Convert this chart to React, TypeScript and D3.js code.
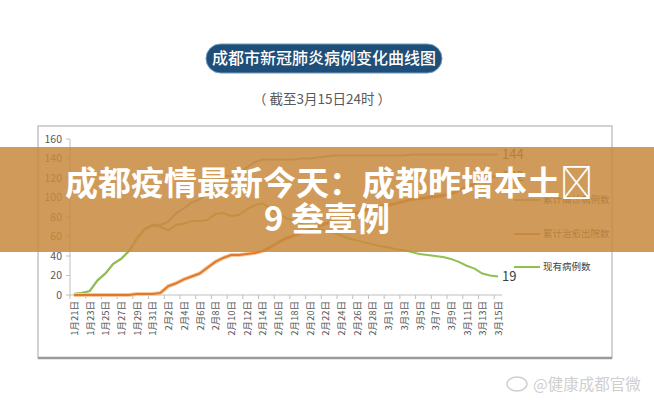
import React from 'react'
import * as d3 from 'd3'

// categories: one per day, 1/21 .. 3/15
const dates = [
    '1月21日', '1月22日', '1月23日', '1月24日', '1月25日', '1月26日', '1月27日', '1月28日', '1月29日', '1月30日', '1月31日',
    '2月1日', '2月2日', '2月3日', '2月4日', '2月5日', '2月6日', '2月7日', '2月8日', '2月9日', '2月10日',
    '2月11日', '2月12日', '2月13日', '2月14日', '2月15日', '2月16日', '2月17日', '2月18日', '2月19日', '2月20日',
    '2月21日', '2月22日', '2月23日', '2月24日', '2月25日', '2月26日', '2月27日', '2月28日', '2月29日',
    '3月1日', '3月2日', '3月3日', '3月4日', '3月5日', '3月6日', '3月7日', '3月8日', '3月9日', '3月10日',
    '3月11日', '3月12日', '3月13日', '3月14日', '3月15日'
]

// 累计确诊病例数
const confirmed = [
    1, 2, 4, 15, 22, 32, 37, 45, 58, 68, 72,
    72, 75, 84, 89, 95, 98, 105, 117, 122, 122,
    124, 131, 136, 139, 139, 139, 139, 139, 140, 140,
    141, 142, 143, 143, 143, 143, 143, 143, 143,
    143, 143, 143, 144, 144, 144, 144, 144, 144, 144,
    144, 144, 144, 144, 144
]

// 累计治愈出院数
const discharged = [
    0, 0, 0, 0, 0, 0, 0, 0, 1, 1, 1,
    2, 9, 12, 16, 19, 22, 28, 34, 38, 41,
    41, 42, 43, 45, 49, 54, 58, 61, 64, 67,
    70, 73, 76, 79, 82, 84, 87, 89, 91,
    92, 94, 96, 98, 99, 100, 101, 102, 104, 107,
    111, 114, 119, 121, 122
]

// 现有病例数
const current = [
    1, 2, 4, 15, 22, 32, 37, 45, 57, 67, 71,
    70, 66, 72, 73, 76, 76, 77, 83, 84, 81,
    82, 88, 92, 94, 89, 83, 79, 76, 73, 70,
    68, 66, 64, 61, 58, 56, 54, 52, 50,
    49, 47, 46, 44, 42, 41, 40, 39, 37, 34,
    30, 27, 22, 20, 19
]

const yTicks = [0, 20, 40, 60, 80, 100, 120, 140, 160]

const series = [
    { name: '累计确诊病例数', values: confirmed, color: '#a5a5a5', legendY: 200 },
    { name: '累计治愈出院数', values: discharged, color: '#dd7a2c', legendY: 234 },
    { name: '现有病例数', values: current, color: '#92c050', legendY: 267 }
]

const FONT = '"Noto Sans CJK SC", "Noto Sans", sans-serif'

export default function App() {
    const width = 654
    const height = 400

    const x = d3.scalePoint<string>().domain(dates).range([70, 502]).padding(0.5)
    const y = d3.scaleLinear().domain([0, 160]).range([295, 139])
    const step = x.step()

    const line = d3
        .line<number>()
        .x((_, i) => x(dates[i]) as number)
        .y(d => y(d))

    const last = dates.length - 1
    const xEnd = x(dates[last]) as number

    return (
        <svg width={width} height={height} style={{ position: 'absolute', left: 0, top: 0, background: '#fff' }}>
            {/* title */}
            <rect x={206} y={44} width={236} height={29} rx={14.5} fill="#1f4e79" stroke="#6f9cc4" strokeWidth={1} />
            <text x={324} y={64} textAnchor="middle" fill="#fff" fontSize={16} fontFamily={FONT} fontWeight={500}>
                成都市新冠肺炎病例变化曲线图
            </text>
            <text x={322} y={104} textAnchor="middle" fill="#595959" fontSize={13.5} fontFamily={FONT}>
                （ 截至3月15日24时 ）
            </text>

            {/* frame */}
            <rect x={38} y={126} width={574} height={232} fill="#fff" stroke="#c4c4c4" strokeWidth={1.5} />
            <line x1={38} x2={612} y1={358} y2={358} stroke="#9a9a9a" strokeWidth={2.5} />

            {/* y axis */}
            <line x1={70} x2={70} y1={y(160)} y2={y(0)} stroke="#bfbfbf" />
            {yTicks.map(t => (
                <g key={t}>
                    <line x1={66} x2={70} y1={y(t)} y2={y(t)} stroke="#bfbfbf" />
                    <text x={62} y={y(t)} dy="0.35em" textAnchor="end" fontSize={10.5} fill="#595959" fontFamily={FONT}>
                        {t}
                    </text>
                </g>
            ))}

            {/* x axis */}
            <line x1={70} x2={502} y1={y(0)} y2={y(0)} stroke="#bfbfbf" />
            {dates.map((d, i) =>
                i % 2 === 0 ? (
                    <g key={d}>
                        <line
                            x1={(x(d) as number) - step / 2}
                            x2={(x(d) as number) - step / 2}
                            y1={y(0)}
                            y2={y(0) + 4}
                            stroke="#bfbfbf"
                        />
                        <text
                            transform={`translate(${x(d)},${301}) rotate(-90)`}
                            textAnchor="end"
                            dominantBaseline="central"
                            fontSize={9.5}
                            fill="#595959"
                            fontFamily={FONT}
                        >
                            {d}
                        </text>
                    </g>
                ) : null
            )}

            {/* lines */}
            <path d={line(confirmed) as string} fill="none" stroke="#a5a5a5" strokeWidth={2} strokeLinejoin="round" />
            <path d={line(current) as string} fill="none" stroke="#92c050" strokeWidth={2} strokeLinejoin="round" />
            <path d={line(discharged) as string} fill="none" stroke="#f6c9a2" strokeWidth={4} strokeLinejoin="round" />
            <path d={line(discharged) as string} fill="none" stroke="#dd7a2c" strokeWidth={2} strokeLinejoin="round" />

            {/* end labels */}
            {series.map(s => (
                <text
                    key={s.name}
                    x={xEnd + 4}
                    y={y(s.values[last])}
                    dy="0.35em"
                    fontSize={13}
                    fill="#404040"
                    fontFamily={FONT}
                >
                    {s.values[last]}
                </text>
            ))}

            {/* legend */}
            {series.map(s => (
                <g key={s.name}>
                    <line x1={514} x2={540} y1={s.legendY} y2={s.legendY} stroke={s.color} strokeWidth={2} />
                    <text x={543} y={s.legendY} dy="0.35em" fontSize={9.5} fill="#404040" fontFamily={FONT}>
                        {s.name}
                    </text>
                </g>
            ))}

            {/* watermark */}
            <ellipse cx={517} cy={384} rx={10} ry={7} fill="none" stroke="#d0d0d0" strokeWidth={1.5} />
            <text x={533} y={390} fontSize={15.5} fill="#cfcfcf" fontFamily={FONT}>
                @健康成都官微
            </text>

            {/* banner overlay */}
            <rect x={0} y={147} width={654} height={105} fill="#c88a3d" opacity={0.85} />
            <text x={329} y={195} textAnchor="middle" fontSize={33} fontWeight={700} fill="#fff" fontFamily={FONT}>
                成都疫情最新今天：成都昨增本土{'\uE000'}
            </text>
            <text x={327} y={231} textAnchor="middle" fontSize={33} fontWeight={700} fill="#fff" fontFamily={FONT}>
                9 叁壹例
            </text>
        </svg>
    )
}
